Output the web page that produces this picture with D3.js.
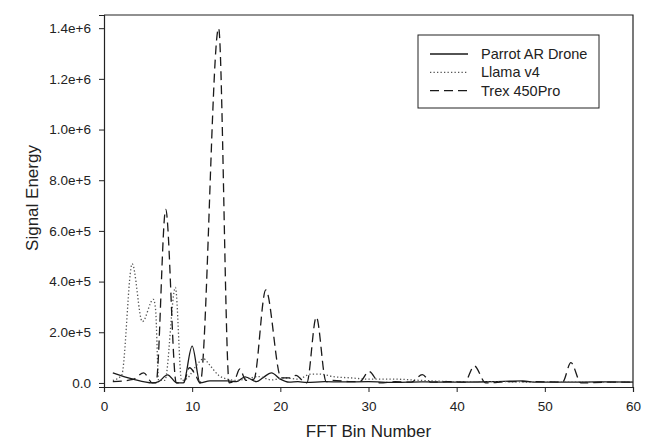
<!DOCTYPE html>
<html>
<head>
<meta charset="utf-8">
<script src="https://cdn.jsdelivr.net/npm/d3@7"></script>
<style>
  body { margin: 0; background: #fff; }
  text { font-family: "Liberation Sans", Arial, sans-serif; fill: #222; }
</style>
</head>
<body>
<svg id="chart" width="652" height="445"></svg>
<script>
// Key points (FFT bin, signal energy).
var parrotBins = [1, 3.3, 5.5, 6.2, 7.2, 8.3, 9, 10, 10.9, 12, 14, 15, 16, 17.3, 18, 19, 20, 21, 22, 23, 25, 27, 30, 33, 36, 40, 44, 47.5, 49, 52, 56, 60];
var parrotVals = [4e4, 1.5e4, 0, 5e3, 3.2e4, 0, 0, 1.45e5, 0, 8e3, 8e3, 5e3, 2.4e4, 5e3, 2e4, 4e4, 1.5e4, 3e3, 5e3, 2e3, 5e3, 4e3, 5e3, 2e3, 4e3, 3e3, 5e3, 8e3, 3e3, 3e3, 4e3, 3e3];

var llamaBins = [1, 2, 3.2, 4.35, 5.6, 5.85, 6.2, 6.9, 8.1, 8.8, 9.5, 10.3, 11.3, 12, 13, 14, 15, 16, 17.5, 19, 20.5, 22, 23.5, 24.5, 26, 28, 30, 33, 36, 40, 45, 50, 55, 60];
var llamaVals = [1e4, 3e4, 4.7e5, 2.42e5, 3.3e5, 2.9e5, 1e4, 1e4, 3.77e5, 1e4, 2e4, 6e4, 9.5e4, 7e4, 3e4, 1.5e4, 1e4, 1.5e4, 2.5e4, 1.2e4, 2e4, 1.5e4, 3.5e4, 3.5e4, 2.5e4, 2e4, 1.5e4, 1.5e4, 1e4, 5e3, 5e3, 3e3, 3e3, 3e3];

var trexBins = [1, 3.3, 4.5, 5.5, 5.9, 7, 8.2, 9, 9.7, 10.4, 10.9, 13, 14.2, 14.8, 15.4, 16.1, 17, 18.35, 20.1, 21, 21.8, 22.5, 23, 24.08, 25.2, 26, 28, 29, 30.05, 31.3, 33, 34.85, 36.1, 37.1, 39, 40.9, 42, 43.3, 46, 49, 52, 52.96, 54.1, 57, 60];
var trexVals = [5e3, 1.4e4, 4e4, 0, 0, 6.85e5, 0, 0, 6e4, 3e4, 0, 1.4e6, 0, 1e4, 5.5e4, 1e4, 1.5e4, 3.67e5, 2e4, 2e4, 3e4, 1e4, 0, 2.6e5, 5e3, 1e4, 5e3, 5e3, 4.5e4, 0, 5e3, 3e3, 3.3e4, 3e3, 5e3, 3e3, 6.7e4, 0, 5e3, 5e3, 3e3, 8e4, 0, 3e3, 3e3];

var seriesNames = ["Parrot AR Drone", "Llama v4", "Trex 450Pro"];
var xTicks = [0, 10, 20, 30, 40, 50, 60];
var yTicks = [0, 2e5, 4e5, 6e5, 8e5, 1e6, 1.2e6, 1.4e6];
var yTickLabels = ["0.0", "2.0e+5", "4.0e+5", "6.0e+5", "8.0e+5", "1.0e+6", "1.2e+6", "1.4e+6"];

var plotLeft = 104, plotRight = 633, plotTop = 15, plotBottom = 387;

var svg = d3.select("#chart");

var x = d3.scaleLinear().domain([0, 60]).range([plotLeft, plotRight]);
var y = d3.scaleLinear().domain([-16000, 1452000]).range([plotBottom, plotTop]);

// Frame (top and right edges).
svg.append("path")
    .attr("d", "M" + plotLeft + "," + plotTop + "H" + plotRight + "V" + plotBottom)
    .attr("fill", "none")
    .attr("stroke", "#222")
    .attr("stroke-width", 1.2);

var xAxis = svg.append("g")
    .attr("transform", "translate(0," + plotBottom + ")")
    .call(d3.axisBottom(x).tickValues(xTicks).tickSizeOuter(0).tickSize(5).tickPadding(9));

var yAxis = svg.append("g")
    .attr("transform", "translate(" + plotLeft + ",0)")
    .call(d3.axisLeft(y).tickValues(yTicks).tickSizeOuter(0).tickSize(5).tickPadding(8)
        .tickFormat(function (d, i) { return yTickLabels[i]; }));

[xAxis, yAxis].forEach(function (g) {
    g.select(".domain").attr("stroke", "#222").attr("stroke-width", 1.2);
    g.selectAll(".tick line").attr("stroke", "#222");
    g.selectAll(".tick text")
        .style("font-family", '"Liberation Sans", Arial, sans-serif')
        .style("font-size", "13.5px")
        .attr("fill", "#333");
});

// Lines.
var line = d3.line()
    .x(function (d) { return x(d[0]); })
    .y(function (d) { return y(d[1]); })
    .curve(d3.curveMonotoneX);

function pairs(bins, vals) {
    return bins.map(function (b, i) { return [b, vals[i]]; });
}

var styles = [
    { dash: null, width: 1.3, color: "#1a1a1a" },
    { dash: "1.3,2.2", width: 1.3, color: "#555" },
    { dash: "9,5", width: 1.3, color: "#1a1a1a" }
];
var seriesData = [
    pairs(parrotBins, parrotVals),
    pairs(llamaBins, llamaVals),
    pairs(trexBins, trexVals)
];

var plot = svg.append("g");
seriesData.forEach(function (data, i) {
    plot.append("path")
        .datum(data)
        .attr("d", line)
        .attr("fill", "none")
        .attr("stroke", styles[i].color)
        .attr("stroke-width", styles[i].width)
        .attr("stroke-dasharray", styles[i].dash);
});

// Legend.
var legend = svg.append("g");
legend.append("rect")
    .attr("x", 418).attr("y", 35)
    .attr("width", 181).attr("height", 73)
    .attr("fill", "#fff")
    .attr("stroke", "#222")
    .attr("stroke-width", 1);

seriesNames.forEach(function (name, i) {
    var ly = 54 + i * 18.3;
    legend.append("line")
        .attr("x1", 430).attr("x2", 468)
        .attr("y1", ly).attr("y2", ly)
        .attr("stroke", styles[i].color)
        .attr("stroke-width", styles[i].width)
        .attr("stroke-dasharray", styles[i].dash);
    legend.append("text")
        .attr("x", 481).attr("y", ly)
        .attr("dy", "0.35em")
        .style("font-size", "14.5px")
        .text(name);
});

// Axis titles.
svg.append("text")
    .attr("x", (plotLeft + plotRight) / 2)
    .attr("y", 437)
    .attr("text-anchor", "middle")
    .style("font-size", "17px")
    .text("FFT Bin Number");

svg.append("text")
    .attr("transform", "translate(38,198) rotate(-90)")
    .attr("text-anchor", "middle")
    .style("font-size", "17px")
    .text("Signal Energy");
</script>
</body>
</html>
